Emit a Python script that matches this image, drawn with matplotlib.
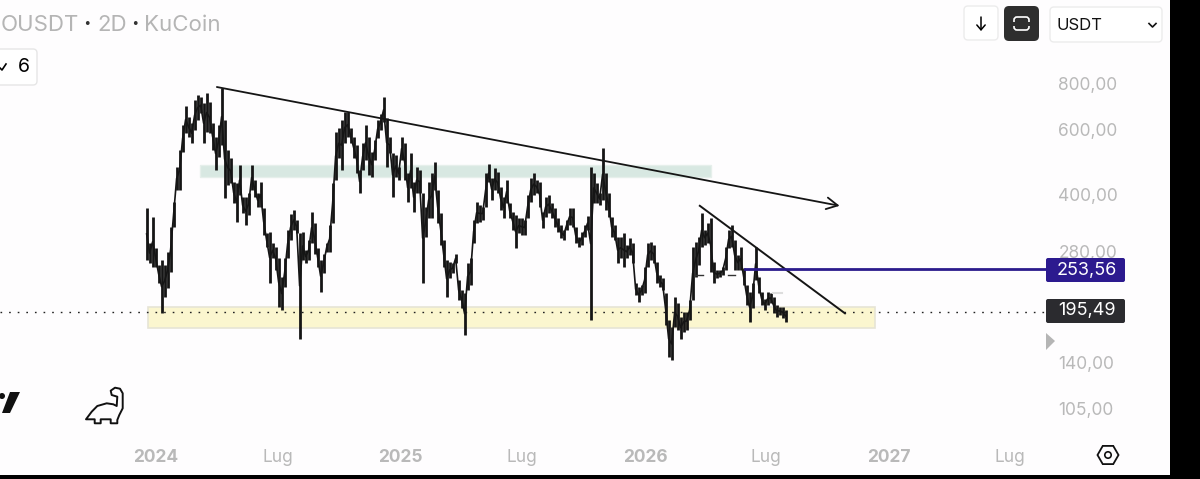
import matplotlib
matplotlib.use("Agg")
import matplotlib.pyplot as plt
import matplotlib.dates as mdates
from matplotlib.patches import FancyBboxPatch, Polygon, Rectangle, RegularPolygon, Circle
from matplotlib.transforms import ScaledTranslation
import numpy as np

plt.rcParams["font.family"] = ["Inter", "DejaVu Sans"]

# price columns, one every ~4.5 days
highs = [371, 298, 351, 288, 260, 268, 260, 281, 329, 385, 479, 533, 623, 702, 655, 630, 728, 751, 741, 714,
         761, 718, 630, 578, 623, 785, 642, 533, 506, 436, 433, 485, 397, 397, 407, 485, 441, 407, 436, 371,
         317, 319, 298, 290, 272, 241, 271, 323, 357, 366, 344, 317, 319, 285, 303, 361, 337, 288, 268, 279,
         298, 333, 433, 596, 610, 642, 675, 675, 610, 578, 549, 470, 556, 623, 578, 526, 567, 642, 667, 741,
         650, 578, 523, 516, 479, 578, 556, 461, 523, 436, 479, 470, 407, 373, 436, 461, 494, 415, 359, 303,
         268, 265, 263, 279, 236, 222, 218, 263, 272, 344, 385, 378, 373, 461, 488, 446, 476, 464, 423, 397,
         441, 383, 361, 355, 348, 348, 344, 402, 446, 461, 441, 436, 361, 397, 402, 383, 371, 348, 333, 323,
         344, 371, 371, 329, 309, 319, 333, 353, 479, 461, 433, 407, 539, 461, 407, 351, 333, 309, 309, 317,
         294, 307, 298, 232, 226, 229, 257, 298, 300, 294, 265, 244, 240, 218, 184, 176, 212, 205, 188, 194,
         194, 209, 290, 299, 309, 359, 323, 337, 348, 265, 252, 252, 257, 290, 323, 333, 303, 276, 290, 255,
         229, 219, 232, 290, 241, 219, 210, 219, 218, 212, 202, 200, 200, 196]
lows = [268, 263, 257, 257, 232, 192, 213, 225, 249, 329, 415, 415, 526, 592, 578, 556, 603, 642, 671, 556,
        596, 592, 533, 470, 510, 549, 395, 428, 433, 383, 340, 402, 359, 333, 355, 415, 397, 373, 373, 313,
        290, 232, 272, 252, 200, 196, 226, 272, 303, 323, 317, 164, 268, 263, 268, 298, 279, 257, 219, 247,
        281, 281, 337, 441, 506, 470, 556, 578, 556, 506, 461, 407, 470, 500, 455, 450, 500, 574, 603, 634,
        479, 523, 397, 450, 441, 500, 441, 385, 420, 361, 407, 407, 232, 309, 348, 348, 415, 337, 294, 257,
        212, 239, 247, 263, 209, 198, 168, 222, 229, 298, 337, 340, 344, 373, 436, 390, 415, 407, 366, 348,
        383, 348, 323, 288, 317, 313, 313, 348, 385, 402, 407, 373, 327, 351, 359, 348, 329, 319, 307, 303,
        323, 333, 329, 298, 290, 294, 309, 323, 184, 383, 383, 378, 390, 366, 351, 309, 303, 263, 271, 257,
        271, 276, 263, 215, 206, 215, 218, 257, 268, 263, 232, 226, 222, 178, 146, 143, 176, 173, 164, 171,
        173, 184, 209, 241, 260, 290, 294, 298, 249, 232, 239, 241, 244, 252, 288, 290, 252, 252, 252, 229,
        202, 182, 198, 236, 218, 202, 196, 202, 205, 192, 188, 190, 187, 182]

price_ticks = [800, 600, 400, 280, 140, 105]
price_labels = ["800,00", "600,00", "400,00", "280,00", "140,00", "105,00"]
date_ticks = ["2024-01-01", "2024-07-01", "2025-01-01", "2025-07-01", "2026-01-01", "2026-07-01", "2027-01-01", "2027-07-01"]
date_labels = ["2024", "Lug", "2025", "Lug", "2026", "Lug", "2027", "Lug"]
year_ticks = ["2024", "2025", "2026", "2027"]

start_date = "2023-12-18"
step_days = 4.485

trend_long = (("2024-04-01", 790), ("2026-10-19", 376))
trend_short = (("2026-03-24", 376), ("2026-10-27", 192))
green_zone = ("2024-03-07", "2026-04-10", 451, 485)
yellow_zone = ("2023-12-20", "2026-12-11", 175, 200)
line_price = 253.56
line_start = "2026-05-30"
line_end = "2027-08-22"
dotted_price = 193.6

# scale of the picture: 0.6689 px per day, 160 px per unit of ln(price)
W, H = 1200, 479
right_edge, bottom_edge = 1169.5, 475
px_day = 0.6689
px_ln = 160.0


def num(d):
    return mdates.datestr2num(d)


fig = plt.figure(figsize=(12, 4.79), dpi=100, facecolor="black")
ax = fig.add_axes([0, 1 - bottom_edge / H, right_edge / W, bottom_edge / H], facecolor="#fefdfe")
ax.set_yscale("log")
x0 = num("2024-01-01")
ax.set_xlim(x0 - 156 / px_day, x0 + (right_edge - 156) / px_day)
ax.set_ylim(800 * np.exp((85 - bottom_edge) / px_ln), 800 * np.exp(85 / px_ln))
for s in ax.spines.values():
    s.set_visible(False)

# zones
ax.add_patch(Rectangle((num(green_zone[0]), green_zone[2]), num(green_zone[1]) - num(green_zone[0]),
                       green_zone[3] - green_zone[2], fc="#d8e8e2", ec="#e6efeb", lw=1, zorder=1))
ax.add_patch(Rectangle((num(yellow_zone[0]), yellow_zone[2]), num(yellow_zone[1]) - num(yellow_zone[0]),
                       yellow_zone[3] - yellow_zone[2], fc="#fbf6cf", ec="#e6e4d6", lw=1.2, zorder=1))

# last price dotted line, behind the bars
ax.plot([ax.get_xlim()[0], num(line_end)], [dotted_price, dotted_price], color="#222222", lw=1,
        dashes=(1.2, 5), zorder=2)

dates = num(start_date) + np.arange(len(highs)) * step_days
ax.vlines(dates, lows, highs, color="#151515", lw=2.0, zorder=3)
# thin path through the columns so neighbouring bars stay joined
mids = np.sqrt(np.array(highs) * np.array(lows))
ax.plot(dates, mids, color="#151515", lw=1.2, zorder=3)

ax.plot([num(trend_short[0][0]), num(trend_short[1][0])], [trend_short[0][1], trend_short[1][1]],
        color="#151515", lw=1.4, zorder=4)
ax.annotate("", xy=(num(trend_long[1][0]), trend_long[1][1]), xytext=(num(trend_long[0][0]), trend_long[0][1]),
            arrowprops=dict(arrowstyle="->,head_length=0.8,head_width=0.42", color="#151515", lw=1.3,
                            shrinkA=0, shrinkB=0), zorder=4)
ax.plot([num(line_start), num(line_end)], [line_price, line_price], color="#2b1b8c", lw=2, zorder=4)

# axis labels sit inside the plot like on the trading screen
ax.set_yticks(price_ticks)
ax.set_yticklabels(price_labels)
ax.minorticks_off()
ax.yaxis.tick_right()
ax.tick_params(axis="y", which="both", length=0, pad=-80, labelsize=12.5, labelcolor="#b9b9b9")
up_a_bit = ScaledTranslation(0, 1.2 / 100, fig.dpi_scale_trans)
for lab in ax.get_yticklabels():
    lab.set_ha("left")
    lab.set_transform(lab.get_transform() + up_a_bit)
ax.set_xticks([num(d) for d in date_ticks])
ax.set_xticklabels(date_labels)
ax.tick_params(axis="x", length=0, pad=-18.5, labelsize=12.5, labelcolor="#b9b9b9")
for lab in ax.get_xticklabels():
    if lab.get_text() in year_ticks:
        lab.set_fontweight("bold")

# screen furniture drawn in pixel coordinates
ui = fig.add_axes([0, 0, 1, 1], facecolor="none")
ui.set_xlim(0, W)
ui.set_ylim(H, 0)
ui.axis("off")


def box(x, y, w, h, fc, ec="none", r=4):
    ui.add_patch(FancyBboxPatch((x + r, y + r), w - 2 * r, h - 2 * r, boxstyle="round,pad=%d" % r,
                                fc=fc, ec=ec, lw=1))


ui.text(1, 25, "OUSDT", color="#b5b5b5", fontsize=16, va="center", ha="left", clip_on=True)
ui.text(87, 25, "·", color="#333333", fontsize=16, va="center", ha="center", fontweight="bold")
ui.text(97, 25, "2D", color="#b5b5b5", fontsize=16, va="center", ha="left")
ui.text(135, 25, "·", color="#333333", fontsize=16, va="center", ha="center", fontweight="bold")
ui.text(144, 25, "KuCoin", color="#b5b5b5", fontsize=16, va="center", ha="left")

box(-10, 49, 47, 36, "white", "#e6e6e6")
ui.plot([0, 2, 6], [68, 70, 64], color="black", lw=1.2)
ui.text(24, 67, "6", color="black", fontsize=14, va="center", ha="center")

box(964, 6, 34, 34, "white", "#ececec")
ui.annotate("", xy=(981, 31), xytext=(981, 17), arrowprops=dict(arrowstyle="->,head_length=0.35,head_width=0.3",
                                                               color="black", lw=1.1, shrinkA=0, shrinkB=0))
box(1004, 6, 35, 35, "#2e2e2e", r=5)
ui.add_patch(FancyBboxPatch((1017, 20), 9, 7, boxstyle="round,pad=3", fc="none", ec="white", lw=1.2))
ui.add_patch(Rectangle((1012, 21.5), 20, 4, fc="#2e2e2e", ec="none", zorder=5))
box(1050, 7, 112, 35, "white", "#ececec")
ui.text(1057, 25, "USDT", color="#111111", fontsize=12, va="center", ha="left")
ui.plot([1149, 1152.5, 1156], [23.5, 27, 23.5], color="#111111", lw=1.2)

box(1046, 258, 79, 24, "#2c1a8f", r=2)
ui.text(1087, 270, "253,56", color="white", fontsize=13, va="center", ha="center")
box(1046, 299, 79, 24, "#2b2b2f", r=2)
ui.text(1087, 311, "195,49", color="white", fontsize=13, va="center", ha="center")
ui.add_patch(Polygon([(1046, 333), (1055, 341), (1046, 350)], fc="#b5b5b5", ec="none"))

# little dashes left by the drawing tools near the last swing
ui.plot([695, 703], [275, 275], color="#333333", lw=1)
ui.plot([728, 735], [275, 275], color="#333333", lw=1)
ui.plot([773, 782], [293, 293], color="#dddddd", lw=1.5)

# logo fragment and dinosaur
ui.add_patch(Polygon([(10, 392), (20, 392), (10, 413), (2, 413)], fc="#111111", ec="none"))
ui.add_patch(Circle((2, 396), 3, fc="#111111", ec="none"))
ui.add_patch(Polygon([(86, 419.3), (91.7, 411.7), (97.3, 406), (106.7, 403.3), (113.3, 404.3), (116.7, 406),
                      (117.3, 396.7), (111.7, 395), (110.7, 390.7), (115, 387.7), (120, 388.7), (122.7, 393.3),
                      (122.7, 408.3), (119.3, 415), (117.3, 420), (117.3, 423.3), (110.7, 423.3), (110.7, 419.3),
                      (100.7, 419.3), (100.7, 423.3), (94.7, 423.3), (94.7, 419.3)],
                     closed=True, fc="none", ec="#111111", lw=1.4, joinstyle="round"))

# settings hexagon
ui.add_patch(RegularPolygon((1108, 455), 6, radius=10.5, orientation=np.pi / 6, fc="none", ec="#111111", lw=1.3))
ui.add_patch(Circle((1108, 455), 3.2, fc="none", ec="#111111", lw=1.2))

fig.savefig("out.png", dpi=100, facecolor=fig.get_facecolor())
